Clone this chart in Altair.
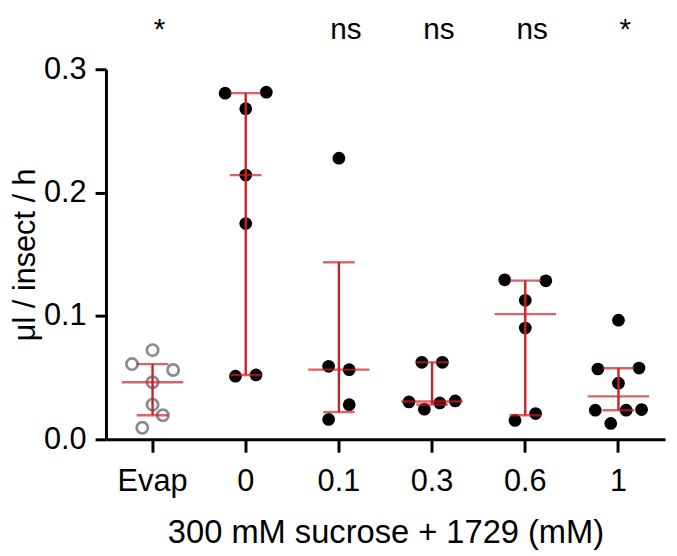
import altair as alt
import pandas as pd

# ---- data ----
groups = ["Evap", "0", "0.1", "0.3", "0.6", "1"]

evap_vals = [0.0723, 0.0610, 0.0562, 0.0463, 0.0281, 0.0195, 0.0094]
evap_slot = [0, -2, 2, 0, 0, 1, -1]
c0_vals = [0.2814, 0.2806, 0.2680, 0.2142, 0.1749, 0.0522, 0.0512]
c0_slot = [2, -2, 0, 0, 0, 1, -1]
c01_vals = [0.2279, 0.0592, 0.0565, 0.0281, 0.0161]
c01_slot = [0, -1, 1, 1, -1]
c03_vals = [0.0624, 0.0624, 0.0303, 0.0311, 0.0295, 0.0244]
c03_slot = [-1, 1, -2.25, 2.25, 0.75, -0.75]
c06_vals = [0.1293, 0.1285, 0.1127, 0.0902, 0.0209, 0.0153]
c06_slot = [-2, 2, 0, 0, 1, -1]
c1_vals = [0.0966, 0.0578, 0.0570, 0.0455, 0.0241, 0.0236, 0.0236, 0.0129]
c1_slot = [0, 2, -2, 0, 2.25, -2.25, 0.75, -0.75]

medians = [0.0463, 0.2142, 0.0565, 0.0307, 0.1015, 0.0348]
q1 = [0.0195, 0.0522, 0.0221, 0.0282, 0.0195, 0.0236]
q3 = [0.0610, 0.2806, 0.1435, 0.0624, 0.1287, 0.0576]
signif = ["*", "", "ns", "ns", "ns", "*"]

# ---- tables ----
rows = []
for g, vals, slots in zip(groups,
                          [evap_vals, c0_vals, c01_vals, c03_vals, c06_vals, c1_vals],
                          [evap_slot, c0_slot, c01_slot, c03_slot, c06_slot, c1_slot]):
    for v, s in zip(vals, slots):
        rows.append({"group": g, "value": v, "slot": s})
pts = pd.DataFrame(rows)
summ = pd.DataFrame({"group": groups, "median": medians, "q1": q1, "q3": q3, "sig": signif})

RED = "#cc1f27"
FONT = "Liberation Sans"

xscale = alt.Scale(type="band", domain=groups, paddingInner=0, paddingOuter=0)
yscale = alt.Scale(domain=[0, 0.3], nice=False)

x_enc = alt.X("group:N", scale=xscale, sort=groups,
              axis=alt.Axis(title="300 mM sucrose + 1729 (mM)", labelAngle=0,
                            tickSize=13, labelPadding=15, titlePadding=20,
                            labelFontSize=31, titleFontSize=33))
y_axis = alt.Axis(title="μl / insect / h", values=[0, 0.1, 0.2, 0.3], format=".1f",
                  tickSize=11, labelPadding=9, titlePadding=2, grid=False,
                  labelFontSize=31, titleFontSize=31)

off = alt.XOffset("slot:Q", scale=alt.Scale(domain=[-4.53, 4.53]))

open_pts = alt.Chart(pts).transform_filter("datum.group == 'Evap'").mark_point(
    filled=False, stroke="#8a8a8a", strokeWidth=2.7, size=130, opacity=1
).encode(x=x_enc, xOffset=off, y=alt.Y("value:Q", scale=yscale, axis=y_axis))

filled_pts = alt.Chart(pts).transform_filter("datum.group != 'Evap'").mark_circle(
    color="black", size=165, opacity=1
).encode(x=x_enc, xOffset=off, y=alt.Y("value:Q", scale=yscale, axis=y_axis))

rule = alt.Chart(summ).mark_rule(color=RED, strokeWidth=2.4).encode(
    x=x_enc, y=alt.Y("q1:Q", scale=yscale, axis=y_axis), y2="q3:Q")

cap_lo = alt.Chart(summ).mark_tick(color=RED, thickness=2.4, size=32, orient="horizontal").encode(
    x=x_enc, y=alt.Y("q1:Q", scale=yscale, axis=y_axis))
cap_hi = alt.Chart(summ).mark_tick(color=RED, thickness=2.4, size=32, orient="horizontal").encode(
    x=x_enc, y=alt.Y("q3:Q", scale=yscale, axis=y_axis))
med = alt.Chart(summ).mark_tick(color=RED, thickness=2.4, orient="horizontal").encode(
    x=x_enc, y=alt.Y("median:Q", scale=yscale, axis=y_axis),
    size=alt.condition("datum.group == '0'", alt.value(32), alt.value(62)))

sig = alt.Chart(summ).mark_text(font=FONT, fontSize=30, baseline="alphabetic",
                                color="black", dx=7).encode(
    x=x_enc, y=alt.value(-31), text="sig:N")

chart = alt.layer(open_pts, filled_pts, rule, cap_lo, cap_hi, med, sig).properties(
    width=565, height=374,
    autosize=alt.AutoSizeParams(type="none"),
    padding={"left": 99, "top": 59, "right": 4, "bottom": 115},
).configure_view(stroke=None).configure_axis(
    domainColor="black", domainWidth=3, tickColor="black", tickWidth=3,
    labelFont=FONT, titleFont=FONT,
    labelColor="black", titleColor="black", titleFontWeight="normal"
)

chart.save("out.html", embed_options={"renderer": "svg", "actions": False})
